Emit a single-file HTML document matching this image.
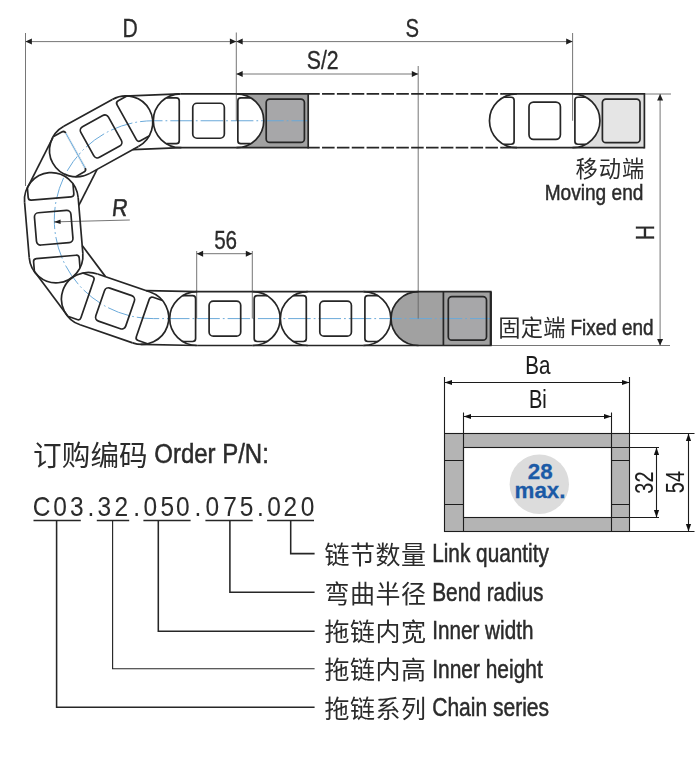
<!DOCTYPE html>
<html><head><meta charset="utf-8"><title>Drag chain</title>
<style>html,body{margin:0;padding:0;background:#fff}svg{display:block}</style></head>
<body>
<svg width="700" height="771" viewBox="0 0 700 771" font-family="'Liberation Sans', sans-serif">
<rect width="700" height="771" fill="#fff"/>
<g opacity="0.999">
<rect x="245.3" y="93.85" width="62.9" height="53.8" fill="#a1a1a1"/>
<path transform="translate(208.55,120.75) rotate(0)" d="M26.75 -26.9H27.75A27.5 26.9 0 0 1 27.75 26.9H26.75Z" fill="#fff"/>
<rect x="581.75" y="93.85" width="62.65" height="53.8" fill="#dedede"/>
<path transform="translate(545,120.75) rotate(0)" d="M26.75 -26.9H27.75A27.5 26.9 0 0 1 27.75 26.9H26.75Z" fill="#fff"/>
<path d="M418.5 291.7H490.8V345.5H418.5A27.5 26.9 0 0 1 418.5 291.7Z" fill="#a1a1a1"/>
<rect x="266.2" y="99.1" width="38.2" height="43.3" rx="3.5" fill="#a7a7a9"/>
<rect x="602.4" y="99.1" width="37.6" height="43.6" rx="3.5" fill="#e5e5e5"/>
<rect x="448.3" y="296.6" width="38.2" height="43.6" rx="3.5" fill="#a7a7a9"/>
<path d="M308 120.75H153.3A98.97 98.9 0 0 0 153.3 318.6H491" fill="none" stroke="#6aa9d9" stroke-width="1.0" stroke-dasharray="22.5 3 1.8 3" stroke-dashoffset="6"/>
<path d="M25.5 33L25.5 186" stroke="#666666" stroke-width="0.9" fill="none" />
<path d="M236.3 32.5L236.3 120.75" stroke="#666666" stroke-width="0.9" fill="none" />
<path d="M572.6 33L572.6 120.75" stroke="#666666" stroke-width="0.9" fill="none" />
<path d="M418.2 66L418.2 318.6" stroke="#666666" stroke-width="0.9" fill="none" />
<path d="M25.5 41.6L572.6 41.6" stroke="#666666" stroke-width="0.9" fill="none" />
<path d="M236.3 74L418.2 74" stroke="#666666" stroke-width="0.9" fill="none" />
<path d="M25.5 41.6L31.9 38.6L31.9 44.6Z" fill="#1e1e1e"/>
<path d="M236.3 41.6L229.9 44.6L229.9 38.6Z" fill="#1e1e1e"/>
<path d="M236.3 41.6L242.7 38.6L242.7 44.6Z" fill="#1e1e1e"/>
<path d="M572.6 41.6L566.2 44.6L566.2 38.6Z" fill="#1e1e1e"/>
<path d="M236.3 74L242.7 71L242.7 77Z" fill="#1e1e1e"/>
<path d="M418.2 74L411.8 77L411.8 71Z" fill="#1e1e1e"/>
<path d="M644.5 94L671 94" stroke="#666666" stroke-width="0.9" fill="none" />
<path d="M491 345.5L670 345.5" stroke="#666666" stroke-width="0.9" fill="none" />
<path d="M660.1 94L660.1 345.5" stroke="#666666" stroke-width="0.9" fill="none" />
<path d="M660.1 94L663.1 100.4L657.1 100.4Z" fill="#1e1e1e"/>
<path d="M660.1 345.5L657.1 339.1L663.1 339.1Z" fill="#1e1e1e"/>
<path d="M196.7 251L196.7 318.6" stroke="#666666" stroke-width="0.9" fill="none" />
<path d="M252.3 251L252.3 318.6" stroke="#666666" stroke-width="0.9" fill="none" />
<path d="M196.7 253.7L252.2 253.7" stroke="#666666" stroke-width="0.9" fill="none" />
<path d="M196.7 253.7L203.1 250.7L203.1 256.7Z" fill="#1e1e1e"/>
<path d="M252.2 253.7L245.8 256.7L245.8 250.7Z" fill="#1e1e1e"/>
<path d="M54 221.9L129.8 220" stroke="#666666" stroke-width="0.9" fill="none" />
<path d="M54 221.9L60.54 219.44L60.65 224.04Z" fill="#1e1e1e"/>
<g transform="translate(208.55,120.75) rotate(0)" fill="none" stroke="#262626" stroke-width="1.7" stroke-linejoin="round"><path d="M-27.75 -26.9H27.75M-27.75 26.9H27.75"/><path d="M-27.75 -26.9A27.5 26.9 0 0 0 -27.75 26.9"/><path d="M-42.18 -22.9H-32.3Q-29.3 -22.9 -29.3 -19.9V19.9Q-29.3 22.9 -32.3 22.9H-42.18"/><path d="M27.75 -26.9A27.5 26.9 0 0 1 27.75 26.9"/><path d="M42.18 -22.9H32.3Q29.3 -22.9 29.3 -19.9V19.9Q29.3 22.9 32.3 22.9H42.18"/><rect x="-15.8" y="-17.5" width="31.6" height="35.0" rx="4.2"/></g>
<path d="M236.3 93.85L308.2 93.85" stroke="#262626" stroke-width="1.7" fill="none" />
<path d="M236.3 147.65L308.2 147.65" stroke="#262626" stroke-width="1.7" fill="none" />
<path d="M308.2 93L308.2 148.5" stroke="#262626" stroke-width="1.7" fill="none" />
<rect x="266.2" y="99.1" width="38.2" height="43.3" rx="3.5" fill="none" stroke="#262626" stroke-width="1.7"/>
<path d="M308.2 93.85H502.5" stroke="#262626" stroke-width="1.7" stroke-dasharray="12.55 2.3" stroke-dashoffset="1" fill="none"/>
<path d="M308.2 147.65H502.5" stroke="#262626" stroke-width="1.7" stroke-dasharray="12.55 2.3" stroke-dashoffset="1" fill="none"/>
<g transform="translate(544.7,120.75) rotate(0)" fill="none" stroke="#262626" stroke-width="1.7" stroke-linejoin="round"><path d="M-27.75 -26.9A27.5 26.9 0 0 0 -27.75 26.9"/><path d="M-41.13 -23.5H-33.6Q-30.6 -23.5 -30.6 -20.5V20.5Q-30.6 23.5 -33.6 23.5H-41.13"/><path d="M27.75 -26.9A27.5 26.9 0 0 1 27.75 26.9"/><path d="M41.13 -23.5H33.2Q30.2 -23.5 30.2 -20.5V20.5Q30.2 23.5 33.2 23.5H41.13"/><rect x="-15.7" y="-18.6" width="31.4" height="37.2" rx="4.5"/></g>
<path d="M502.2 93.85L644.4 93.85" stroke="#262626" stroke-width="1.7" fill="none" />
<path d="M502.2 147.65L644.4 147.65" stroke="#262626" stroke-width="1.7" fill="none" />
<path d="M644.4 93L644.4 148.5" stroke="#262626" stroke-width="1.7" fill="none" />
<rect x="602.4" y="99.1" width="37.6" height="43.6" rx="3.5" fill="none" stroke="#262626" stroke-width="1.7"/>
<g transform="translate(224.9,318.6) rotate(0)" fill="none" stroke="#262626" stroke-width="1.7" stroke-linejoin="round"><path d="M-27.75 -26.9H27.75M-27.75 26.9H27.75"/><path d="M-27.75 -26.9A27.5 26.9 0 0 0 -27.75 26.9"/><path d="M-42.18 -22.9H-32.3Q-29.3 -22.9 -29.3 -19.9V19.9Q-29.3 22.9 -32.3 22.9H-42.18"/><path d="M27.75 -26.9A27.5 26.9 0 0 1 27.75 26.9"/><path d="M42.18 -22.9H32.3Q29.3 -22.9 29.3 -19.9V19.9Q29.3 22.9 32.3 22.9H42.18"/><rect x="-15.8" y="-17.5" width="31.6" height="35.0" rx="4.2"/></g>
<g transform="translate(335.6,318.6) rotate(0)" fill="none" stroke="#262626" stroke-width="1.7" stroke-linejoin="round"><path d="M-27.75 -26.9H27.75M-27.75 26.9H27.75"/><path d="M-27.75 -26.9A27.5 26.9 0 0 0 -27.75 26.9"/><path d="M-42.18 -22.9H-32.3Q-29.3 -22.9 -29.3 -19.9V19.9Q-29.3 22.9 -32.3 22.9H-42.18"/><path d="M27.75 -26.9A27.5 26.9 0 0 1 27.75 26.9"/><path d="M42.18 -22.9H32.3Q29.3 -22.9 29.3 -19.9V19.9Q29.3 22.9 32.3 22.9H42.18"/><rect x="-15.8" y="-17.5" width="31.6" height="35.0" rx="4.2"/></g>
<path d="M252.65 345.5L307.85 345.5" stroke="#262626" stroke-width="1.7" fill="none" />
<path d="M252.65 291.7L307.85 291.7" stroke="#262626" stroke-width="1.7" fill="none" />
<path d="M363.35 345.5L418.5 345.5" stroke="#262626" stroke-width="1.7" fill="none" />
<path d="M363.35 291.7L418.5 291.7" stroke="#262626" stroke-width="1.7" fill="none" />
<path d="M418.5 291.7H490.8V345.5H418.5A27.5 26.9 0 0 1 418.5 291.7M443.4 291.7V345.5" fill="none" stroke="#262626" stroke-width="1.7"/>
<path d="M490.8 291.7L490.8 345.5" stroke="#262626" stroke-width="2.2" fill="none" />
<rect x="448.3" y="296.6" width="38.2" height="43.6" rx="3.5" fill="none" stroke="#262626" stroke-width="1.7"/>
<g transform="translate(101.1,136.4) rotate(-29)" fill="none" stroke="#262626" stroke-width="1.7" stroke-linejoin="round"><path d="M-27.75 -26.9H27.75M-27.75 26.9H27.75"/><path d="M-27.75 -26.9A27.5 26.9 0 0 0 -27.75 26.9"/><path d="M-42.18 -22.9H-32.3Q-29.3 -22.9 -29.3 -19.9V19.9Q-29.3 22.9 -32.3 22.9H-42.18"/><path d="M27.75 -26.9A27.5 26.9 0 0 1 27.75 26.9"/><path d="M42.18 -22.9H32.3Q29.3 -22.9 29.3 -19.9V19.9Q29.3 22.9 32.3 22.9H42.18"/><path d="M-29.3 -19.9V19.9" stroke="#fff" stroke-width="2.4"/><path d="M-29.3 -19.9V19.9" stroke="#6aa9d9" stroke-width="1"/><rect x="-15.8" y="-17.5" width="31.6" height="35.0" rx="4.2"/></g>
<g transform="translate(53.7,227.7) rotate(85.2)" fill="none" stroke="#262626" stroke-width="1.7" stroke-linejoin="round"><path d="M-27.75 -26.9H27.75M-27.75 26.9H27.75"/><path d="M-27.75 -26.9A27.5 26.9 0 0 0 -27.75 26.9"/><path d="M-42.18 -22.9H-32.3Q-29.3 -22.9 -29.3 -19.9V19.9Q-29.3 22.9 -32.3 22.9H-42.18"/><path d="M27.75 -26.9A27.5 26.9 0 0 1 27.75 26.9"/><path d="M42.18 -22.9H32.3Q29.3 -22.9 29.3 -19.9V19.9Q29.3 22.9 32.3 22.9H42.18"/><rect x="-16.2" y="-18.3" width="32.4" height="36.6" rx="4.2"/></g>
<g transform="translate(115.1,308.4) rotate(19)" fill="none" stroke="#262626" stroke-width="1.7" stroke-linejoin="round"><path d="M-27.75 -26.9H27.75M-27.75 26.9H27.75"/><path d="M-27.75 -26.9A27.5 26.9 0 0 0 -27.75 26.9"/><path d="M-42.18 -22.9H-32.3Q-29.3 -22.9 -29.3 -19.9V19.9Q-29.3 22.9 -32.3 22.9H-42.18"/><path d="M27.75 -26.9A27.5 26.9 0 0 1 27.75 26.9"/><path d="M42.18 -22.9H32.3Q29.3 -22.9 29.3 -19.9V19.9Q29.3 22.9 32.3 22.9H42.18"/><rect x="-15.8" y="-17.5" width="31.6" height="35.0" rx="4.2"/></g>
<path d="M179.73 93.87L124.31 96.07" stroke="#262626" stroke-width="1.7" fill="none" />
<path d="M181.33 147.65L132.82 149.57" stroke="#262626" stroke-width="1.7" fill="none" />
<path d="M52.84 137.69L27.39 187.88" stroke="#262626" stroke-width="1.7" fill="none" />
<path d="M97.09 169.38L78.82 205.4" stroke="#262626" stroke-width="1.7" fill="none" />
<path d="M34.46 271.44L67.3 315.45" stroke="#262626" stroke-width="1.7" fill="none" />
<path d="M82.18 245.43L105.46 276.63" stroke="#262626" stroke-width="1.7" fill="none" />
<path d="M140.78 344.33L196.59 345.49" stroke="#262626" stroke-width="1.7" fill="none" />
<path d="M146.11 290.63L197.43 291.7" stroke="#262626" stroke-width="1.7" fill="none" />
<text transform="translate(130.2,36.8) scale(0.816,1)" font-size="26" text-anchor="middle" font-weight="normal" fill="#2b2b2b" stroke="#2b2b2b" stroke-width="0.3">D</text>
<text transform="translate(412.3,37) scale(0.78,1)" font-size="26" text-anchor="middle" font-weight="normal" fill="#2b2b2b" stroke="#2b2b2b" stroke-width="0.3">S</text>
<text transform="translate(322.7,69) scale(0.832,1)" font-size="25.6" text-anchor="middle" font-weight="normal" fill="#2b2b2b" stroke="#2b2b2b" stroke-width="0.3">S/2</text>
<text transform="translate(119.0,216.3) skewX(-7) scale(0.88,1)" font-size="24.5" text-anchor="middle" fill="#2b2b2b" stroke="#2b2b2b" stroke-width="0.5">R</text>
<text transform="translate(225.6,248.5) scale(0.81,1)" font-size="25.5" text-anchor="middle" font-weight="normal" fill="#2b2b2b" stroke="#2b2b2b" stroke-width="0.3">56</text>
<text transform="translate(654.3,232.6) rotate(-90) scale(0.85,1)" font-size="25" text-anchor="middle" font-weight="normal" fill="#2b2b2b" stroke="#2b2b2b" stroke-width="0.3">H</text>
<text x="575.4" y="177.2" font-size="22.3" textLength="68.9" lengthAdjust="spacing" font-family="'Liberation Sans', 'Noto Sans CJK SC', sans-serif" fill="#2b2b2b">移动端</text>
<text transform="translate(643.4,200.3) scale(0.838,1)" font-size="22.8" text-anchor="end" font-weight="normal" fill="#2b2b2b" stroke="#2b2b2b" stroke-width="0.5">Moving end</text>
<text x="498.2" y="336.4" font-size="22.3" textLength="67.3" lengthAdjust="spacing" font-family="'Liberation Sans', 'Noto Sans CJK SC', sans-serif" fill="#2b2b2b">固定端</text>
<text transform="translate(570.5,335) scale(0.852,1)" font-size="22.2" text-anchor="start" font-weight="normal" fill="#2b2b2b" stroke="#2b2b2b" stroke-width="0.5">Fixed end</text>
<rect x="444.5" y="433.5" width="185" height="98" fill="#b4b4b4"/>
<rect x="463.5" y="447.5" width="148" height="70" fill="#fff"/>
<g fill="none" stroke="#1c1c1c" stroke-width="1.1"><rect x="444.5" y="433.5" width="185" height="98"/><rect x="463.5" y="447.5" width="148" height="70"/><path d="M463.5 433.5V531.5M611.5 433.5V531.5M444.5 460.5H463.5M444.5 504.5H463.5M611.5 460.5H629.5M611.5 504.5H629.5"/><path d="M444.5 377V433.5M629.5 377V433.5M444.5 382.5H629.5"/><path d="M463.5 412.5V433.5M611.5 412.5V433.5M463.5 416.5H611.5"/><path d="M611.5 447.5H659M611.5 517.5H659M656.5 447.5V517.5"/><path d="M629.5 433.5H694.5M629.5 531.5H694.5M688.5 433.5V531.5"/></g>
<path d="M444.5 382.5L452 379.9L452 385.1Z" fill="#111"/>
<path d="M629.5 382.5L622 385.1L622 379.9Z" fill="#111"/>
<path d="M463.5 416.5L471 413.9L471 419.1Z" fill="#111"/>
<path d="M611.5 416.5L604 419.1L604 413.9Z" fill="#111"/>
<path d="M656.5 447.5L659.1 455L653.9 455Z" fill="#111"/>
<path d="M656.5 517.5L653.9 510L659.1 510Z" fill="#111"/>
<path d="M688.5 433.5L691.1 441L685.9 441Z" fill="#111"/>
<path d="M688.5 531.5L685.9 524L691.1 524Z" fill="#111"/>
<circle cx="539.3" cy="484.2" r="29.7" fill="#dcdcdc"/>
<text transform="translate(540.2,478.8) scale(1.04,1)" font-size="21.5" text-anchor="middle" font-weight="bold" fill="#1b5aa6" stroke="#1b5aa6" stroke-width="0.25">28</text>
<text transform="translate(540,497.9) scale(1.04,1)" font-size="21.5" text-anchor="middle" font-weight="bold" fill="#1b5aa6" stroke="#1b5aa6" stroke-width="0.25">max.</text>
<text transform="translate(537.9,374.1) scale(0.81,1)" font-size="25.4" text-anchor="middle" font-weight="normal" fill="#1c1c1c" stroke="#1c1c1c" stroke-width="0.1">Ba</text>
<text transform="translate(537.8,408.4) scale(0.8,1)" font-size="25.0" text-anchor="middle" font-weight="normal" fill="#1c1c1c" stroke="#1c1c1c" stroke-width="0.1">Bi</text>
<text transform="translate(653,482.6) rotate(-90) scale(0.78,1)" font-size="25.5" text-anchor="middle" font-weight="normal" fill="#1c1c1c" stroke="#1c1c1c" stroke-width="0.1">32</text>
<text transform="translate(683.5,482.1) rotate(-90) scale(0.78,1)" font-size="25.5" text-anchor="middle" font-weight="normal" fill="#1c1c1c" stroke="#1c1c1c" stroke-width="0.1">54</text>
<text x="33" y="465.9" font-size="28.6" textLength="114.7" lengthAdjust="spacing" font-family="'Liberation Sans', 'Noto Sans CJK SC', sans-serif" fill="#2b2b2b">订购编码</text>
<text transform="translate(154.3,463.2) scale(0.888,1)" font-size="27.0" text-anchor="start" font-weight="normal" fill="#2b2b2b" stroke="#2b2b2b" stroke-width="0.5">Order P/N:</text>
<text transform="translate(41.6,515.5) scale(0.89,1)" font-size="27.5" text-anchor="middle" font-weight="normal" fill="#2b2b2b" stroke="#2b2b2b" stroke-width="0.05">C</text>
<text transform="translate(60,515.5) scale(0.89,1)" font-size="27.5" text-anchor="middle" font-weight="normal" fill="#2b2b2b" stroke="#2b2b2b" stroke-width="0.05">0</text>
<text transform="translate(76.8,515.5) scale(0.89,1)" font-size="27.5" text-anchor="middle" font-weight="normal" fill="#2b2b2b" stroke="#2b2b2b" stroke-width="0.05">3</text>
<text transform="translate(90.9,515.5) scale(0.89,1)" font-size="27.5" text-anchor="middle" font-weight="normal" fill="#2b2b2b" stroke="#2b2b2b" stroke-width="0.05">.</text>
<text transform="translate(104.3,515.5) scale(0.89,1)" font-size="27.5" text-anchor="middle" font-weight="normal" fill="#2b2b2b" stroke="#2b2b2b" stroke-width="0.05">3</text>
<text transform="translate(121.3,515.5) scale(0.89,1)" font-size="27.5" text-anchor="middle" font-weight="normal" fill="#2b2b2b" stroke="#2b2b2b" stroke-width="0.05">2</text>
<text transform="translate(136.6,515.5) scale(0.89,1)" font-size="27.5" text-anchor="middle" font-weight="normal" fill="#2b2b2b" stroke="#2b2b2b" stroke-width="0.05">.</text>
<text transform="translate(150.3,515.5) scale(0.89,1)" font-size="27.5" text-anchor="middle" font-weight="normal" fill="#2b2b2b" stroke="#2b2b2b" stroke-width="0.05">0</text>
<text transform="translate(167.2,515.5) scale(0.89,1)" font-size="27.5" text-anchor="middle" font-weight="normal" fill="#2b2b2b" stroke="#2b2b2b" stroke-width="0.05">5</text>
<text transform="translate(182.8,515.5) scale(0.89,1)" font-size="27.5" text-anchor="middle" font-weight="normal" fill="#2b2b2b" stroke="#2b2b2b" stroke-width="0.05">0</text>
<text transform="translate(197.9,515.5) scale(0.89,1)" font-size="27.5" text-anchor="middle" font-weight="normal" fill="#2b2b2b" stroke="#2b2b2b" stroke-width="0.05">.</text>
<text transform="translate(212.3,515.5) scale(0.89,1)" font-size="27.5" text-anchor="middle" font-weight="normal" fill="#2b2b2b" stroke="#2b2b2b" stroke-width="0.05">0</text>
<text transform="translate(230,515.5) scale(0.89,1)" font-size="27.5" text-anchor="middle" font-weight="normal" fill="#2b2b2b" stroke="#2b2b2b" stroke-width="0.05">7</text>
<text transform="translate(246.6,515.5) scale(0.89,1)" font-size="27.5" text-anchor="middle" font-weight="normal" fill="#2b2b2b" stroke="#2b2b2b" stroke-width="0.05">5</text>
<text transform="translate(260.3,515.5) scale(0.89,1)" font-size="27.5" text-anchor="middle" font-weight="normal" fill="#2b2b2b" stroke="#2b2b2b" stroke-width="0.05">.</text>
<text transform="translate(274,515.5) scale(0.89,1)" font-size="27.5" text-anchor="middle" font-weight="normal" fill="#2b2b2b" stroke="#2b2b2b" stroke-width="0.05">0</text>
<text transform="translate(290.3,515.5) scale(0.89,1)" font-size="27.5" text-anchor="middle" font-weight="normal" fill="#2b2b2b" stroke="#2b2b2b" stroke-width="0.05">2</text>
<text transform="translate(307.5,515.5) scale(0.89,1)" font-size="27.5" text-anchor="middle" font-weight="normal" fill="#2b2b2b" stroke="#2b2b2b" stroke-width="0.05">0</text>
<path d="M33.5 520.5L80.8 520.5" stroke="#262626" stroke-width="1.7" fill="none" />
<path d="M96.8 520.5L129.2 520.5" stroke="#262626" stroke-width="1.7" fill="none" />
<path d="M143.4 520.5L190.6 520.5" stroke="#262626" stroke-width="1.7" fill="none" />
<path d="M205.4 520.5L252.7 520.5" stroke="#262626" stroke-width="1.7" fill="none" />
<path d="M267.1 520.5L314 520.5" stroke="#262626" stroke-width="1.7" fill="none" />
<path d="M290.7 520.5V553.6H314.6" fill="none" stroke="#262626" stroke-width="1.55"/>
<text x="324.4" y="564.1" font-size="25" textLength="101.5" lengthAdjust="spacing" font-family="'Liberation Sans', 'Noto Sans CJK SC', sans-serif" fill="#2b2b2b">链节数量</text>
<text transform="translate(432.2,562.3) scale(0.828239043824701,1)" font-size="25.1" text-anchor="start" font-weight="normal" fill="#2b2b2b" stroke="#2b2b2b" stroke-width="0.5">Link quantity</text>
<path d="M229.9 520.5V592.2H314.6" fill="none" stroke="#262626" stroke-width="1.55"/>
<text x="324.4" y="602.6" font-size="25" textLength="101.5" lengthAdjust="spacing" font-family="'Liberation Sans', 'Noto Sans CJK SC', sans-serif" fill="#2b2b2b">弯曲半径</text>
<text transform="translate(432.2,600.8) scale(0.8311553784860557,1)" font-size="25.1" text-anchor="start" font-weight="normal" fill="#2b2b2b" stroke="#2b2b2b" stroke-width="0.5">Bend radius</text>
<path d="M158.3 520.5V631.2H314.6" fill="none" stroke="#262626" stroke-width="1.55"/>
<text x="324.4" y="641" font-size="25" textLength="101.5" lengthAdjust="spacing" font-family="'Liberation Sans', 'Noto Sans CJK SC', sans-serif" fill="#2b2b2b">拖链内宽</text>
<text transform="translate(432.2,639.2) scale(0.8243505976095616,1)" font-size="25.1" text-anchor="start" font-weight="normal" fill="#2b2b2b" stroke="#2b2b2b" stroke-width="0.5">Inner width</text>
<path d="M112.6 520.5V668.7H314.6" fill="none" stroke="#262626" stroke-width="1.15"/>
<text x="324.4" y="679.4" font-size="25" textLength="101.5" lengthAdjust="spacing" font-family="'Liberation Sans', 'Noto Sans CJK SC', sans-serif" fill="#2b2b2b">拖链内高</text>
<text transform="translate(432.2,677.6) scale(0.8340717131474102,1)" font-size="25.1" text-anchor="start" font-weight="normal" fill="#2b2b2b" stroke="#2b2b2b" stroke-width="0.5">Inner height</text>
<path d="M56.6 520.5V707.3H314.6" fill="none" stroke="#262626" stroke-width="1.55"/>
<text x="324.4" y="717.8" font-size="25" textLength="101.5" lengthAdjust="spacing" font-family="'Liberation Sans', 'Noto Sans CJK SC', sans-serif" fill="#2b2b2b">拖链系列</text>
<text transform="translate(432.2,716) scale(0.8379601593625496,1)" font-size="25.1" text-anchor="start" font-weight="normal" fill="#2b2b2b" stroke="#2b2b2b" stroke-width="0.5">Chain series</text>
</g>
</svg>
</body></html>
